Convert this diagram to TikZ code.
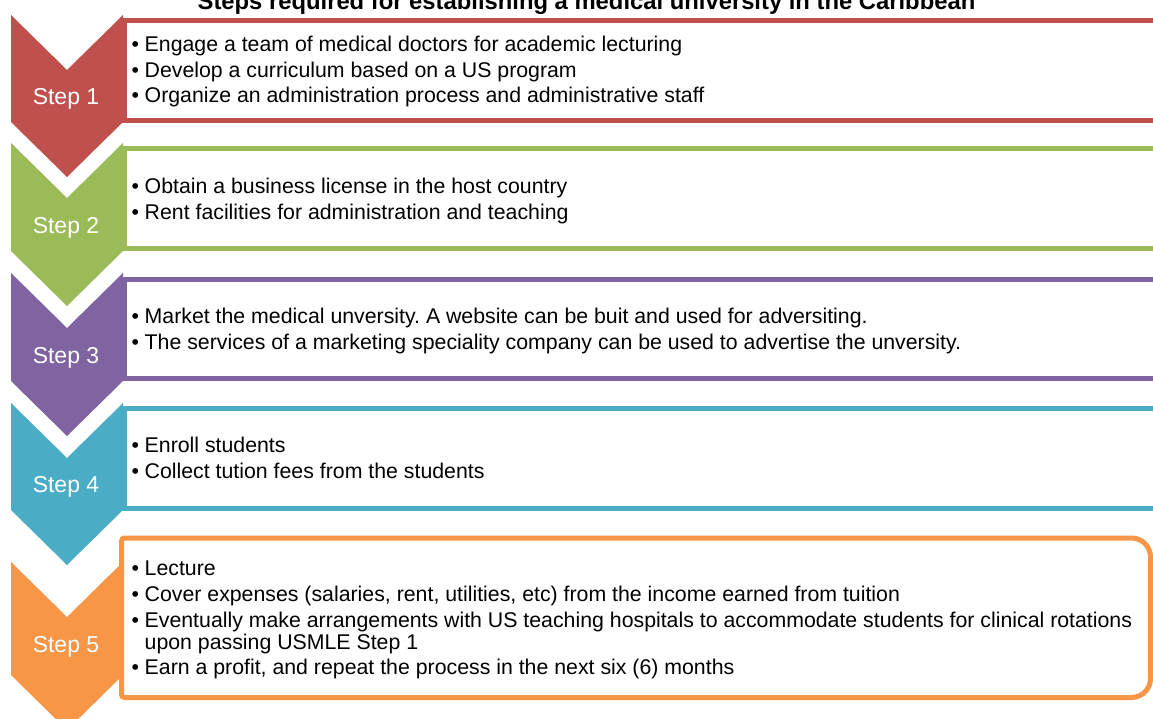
\documentclass[tikz,border=0pt]{standalone}
\usepackage{fontspec}
\setmainfont{Liberation Sans}
\frenchspacing
\definecolor{cRed}{HTML}{C0504D}
\definecolor{cGreen}{HTML}{9BBB59}
\definecolor{cPurple}{HTML}{8064A2}
\definecolor{cBlue}{HTML}{4BACC6}
\definecolor{cOrange}{HTML}{F79646}
\newcommand{\chevshape}[3]{% top, bottom, colour
  \fill[#3] (11,#1) -- (67,#1+55) -- (123,#1) -- (123,#2) -- (67,#2+55) -- (11,#2) -- cycle;}
\begin{document}
\begin{tikzpicture}[x=1pt,y=-1pt,
  boxline/.style={line width=5pt},
  steplabel/.style={text=white,font=\fontsize{23}{27}\selectfont,inner sep=0pt,anchor=base},
  bul/.style={font=\fontsize{21.3}{26}\selectfont,inner sep=0pt,anchor=base west},
  itemtext/.style={font=\fontsize{21.3}{26}\selectfont,inner sep=0pt,anchor=base west},
  titletext/.style={font=\bfseries\fontsize{23.8}{28}\selectfont,inner sep=0pt,anchor=base}]
\useasboundingbox (0,0) rectangle (1153,719);
\clip (0,0) rectangle (1153,719);
\fill[white] (0,0) rectangle (1153,719);
% title
\node[titletext] (title) at (586.5,10) {Steps required for establishing a medical university in the Caribbean};
% boxes
\draw[boxline,cRed] (1170,20.5) -- (124,20.5) -- (124,120.5) -- (1170,120.5);
\draw[boxline,cGreen] (1170,149) -- (124,149) -- (124,249) -- (1170,249);
\draw[boxline,cPurple] (1170,279) -- (124,279) -- (124,378.5) -- (1170,378.5);
\draw[boxline,cBlue] (1170,408) -- (124,408) -- (124,508) -- (1170,508);
\draw[boxline,cOrange,rounded corners=3pt] (1000,538) -- (121.5,538) -- (121.5,697.5) -- (1000,697.5);
\draw[boxline,cOrange,rounded corners=19pt] (1000,538) -- (1150.5,538) -- (1150.5,697.5) -- (1000,697.5);
% chevrons
\chevshape{15}{122}{cRed}
\chevshape{143}{251}{cGreen}
\chevshape{273}{381}{cPurple}
\chevshape{403}{510}{cBlue}
\chevshape{562}{675}{cOrange}
% step labels
\node[steplabel] (s1) at (66,105) {Step 1};
\node[steplabel] (s2) at (66,234) {Step 2};
\node[steplabel] (s3) at (66,363) {Step 3};
\node[steplabel] (s4) at (66,492) {Step 4};
\node[steplabel] (s5) at (66,652) {Step 5};
% box 1
\node[bul] (b1x) at (131.5,52) {•};
\node[itemtext] (b1a) at (144.5,52) {Engage a team of medical doctors for academic lecturing};
\node[bul] (b1y) at (131.5,77.5) {•};
\node[itemtext] (b1b) at (144.5,77.5) {Develop a curriculum based on a US program};
\node[bul] (b1z) at (131.5,103) {•};
\node[itemtext] (b1c) at (144.5,103) {Organize an administration process and administrative staff};
% box 2
\node[bul] (b2x) at (131.5,194) {•};
\node[itemtext] (b2a) at (144.5,194) {Obtain a business license in the host country};
\node[bul] (b2y) at (131.5,219.5) {•};
\node[itemtext] (b2b) at (144.5,219.5) {Rent facilities for administration and teaching};
% box 3
\node[bul] (b3x) at (131.5,323) {•};
\node[itemtext] (b3a) at (144.5,323) {Market the medical unversity. A website can be buit and used for adversiting.};
\node[bul] (b3y) at (131.5,349) {•};
\node[itemtext] (b3b) at (144.5,349) {The services of a marketing speciality company can be used to advertise the unversity.};
% box 4
\node[bul] (b4x) at (131.5,452) {•};
\node[itemtext] (b4a) at (144.5,452) {Enroll students};
\node[bul] (b4y) at (131.5,478) {•};
\node[itemtext] (b4b) at (144.5,478) {Collect tution fees from the students};
% box 5
\node[bul] (b5x) at (131.5,575) {•};
\node[itemtext] (b5a) at (144.5,575) {Lecture};
\node[bul] (b5y) at (131.5,601) {•};
\node[itemtext] (b5b) at (144.5,601) {Cover expenses (salaries, rent, utilities, etc) from the income earned from tuition};
\node[bul] (b5z) at (131.5,627) {•};
\node[itemtext] (b5c) at (144.5,627) {Eventually make arrangements with US teaching hospitals to accommodate students for clinical rotations};
\node[itemtext] (b5d) at (144.5,649) {upon passing USMLE Step 1};
\node[bul] (b5w) at (131.5,674) {•};
\node[itemtext] (b5e) at (144.5,674) {Earn a profit, and repeat the process in the next six (6) months};
\end{tikzpicture}
\end{document}
